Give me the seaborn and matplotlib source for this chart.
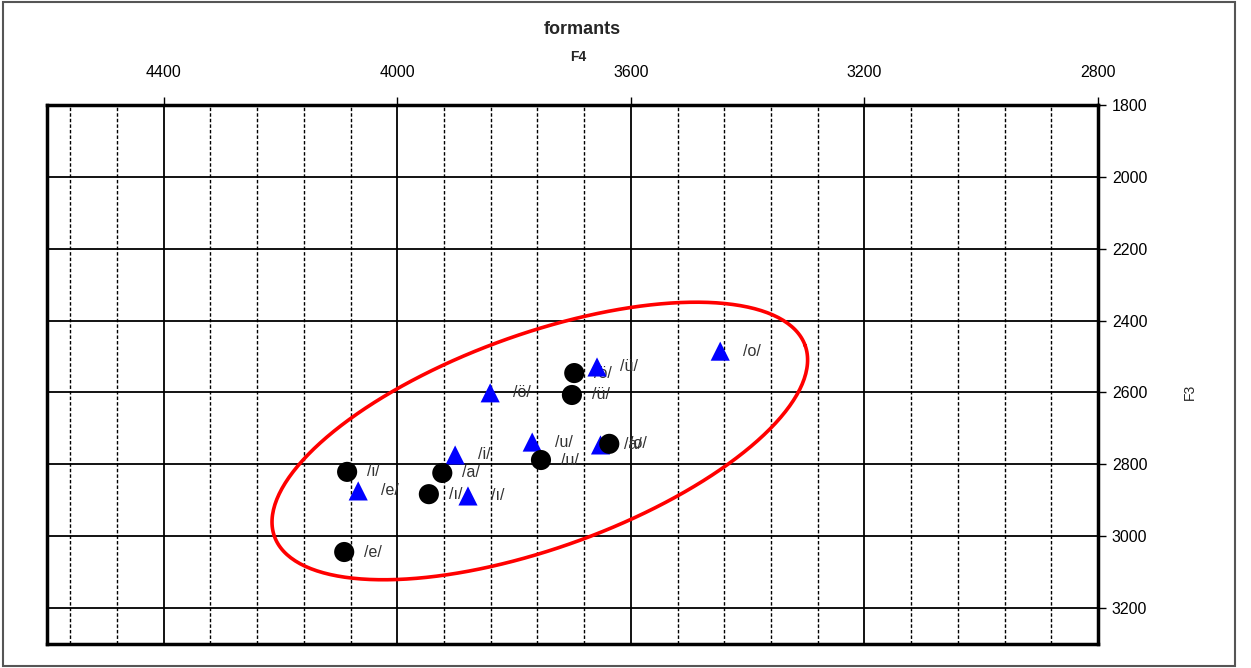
import numpy as np
import pandas as pd
import matplotlib
matplotlib.use("Agg")
import matplotlib.pyplot as plt
from matplotlib.ticker import MultipleLocator
from matplotlib.patches import Rectangle
import seaborn as sns

# --- data ---
circle_vowels = ["i", "e", "a", "ı", "u", "ö", "ü", "o"]
circle_f4 = [4086, 4091, 3923, 3946, 3754, 3697, 3701, 3637]
circle_f3 = [2821, 3044, 2824, 2883, 2788, 2546, 2607, 2743]

triangle_vowels = ["e", "i", "ı", "u", "ö", "ü", "o", "a"]
triangle_f4 = [4067, 3901, 3879, 3769, 3841, 3658, 3447, 3652]
triangle_f3 = [2874, 2774, 2888, 2738, 2601, 2529, 2485, 2746]

x_ticks = [4400, 4000, 3600, 3200, 2800]
y_ticks = [1800, 2000, 2200, 2400, 2600, 2800, 3000, 3200]

# ellipse drawn around the cloud (centre in data units, radii in pixels)
ell_center = (3756, 2735)
ell_a, ell_b, ell_angle = 282, 107, 19.8

df_c = pd.DataFrame({"F4": circle_f4, "F3": circle_f3, "vowel": circle_vowels})
df_t = pd.DataFrame({"F4": triangle_f4, "F3": triangle_f3, "vowel": triangle_vowels})

sns.set_style("white")
plt.rcParams["font.family"] = ["Liberation Sans", "DejaVu Sans"]

W, H = 1251, 668
fig = plt.figure(figsize=(W / 100, H / 100), dpi=100)
ax = fig.add_axes([47 / W, 1 - 644 / H, (1098 - 47) / W, (644 - 105) / H])

ax.set_xlim(4600, 2800)
ax.set_ylim(3300, 1800)
ax.set_xticks(x_ticks)
ax.set_yticks(y_ticks)
ax.xaxis.set_minor_locator(MultipleLocator(80))
ax.xaxis.tick_top()
ax.yaxis.tick_right()
ax.tick_params(which="major", direction="out", length=6, width=1, labelsize=11.5,
               colors="black", pad=4)
ax.tick_params(axis="x", which="major", pad=12)
ax.tick_params(which="minor", length=0)

ax.grid(which="major", axis="both", color="black", lw=1.3)
ax.grid(which="minor", axis="x", color="black", lw=1, ls=(0, (2.5, 1.5)))
ax.set_axisbelow(True)
for s in ax.spines.values():
    s.set_linewidth(2.5)
    s.set_color("black")

sns.scatterplot(data=df_t, x="F4", y="F3", marker="^", color="#0000FF", s=190,
                edgecolor="none", ax=ax, zorder=4)
sns.scatterplot(data=df_c, x="F4", y="F3", marker="o", color="black", s=210,
                edgecolor="none", ax=ax, zorder=5)
ax.set_xlabel("")
ax.set_ylabel("")

for _, r in df_c.iterrows():
    ax.annotate(f"/{r.vowel}/", (r.F4, r.F3), xytext=(20, 0), textcoords="offset pixels",
                ha="left", va="center", fontsize=11.5, color="#333333", zorder=3)
for _, r in df_t.iterrows():
    ax.annotate(f"/{r.vowel}/", (r.F4, r.F3), xytext=(23, 0), textcoords="offset pixels",
                ha="left", va="center", fontsize=11.5, color="#333333", zorder=6)

# red ellipse
cx, cy = ax.transData.transform(ell_center)
t = np.linspace(0, 2 * np.pi, 300)
th = np.deg2rad(ell_angle)
px = cx + ell_a * np.cos(t) * np.cos(th) - ell_b * np.sin(t) * np.sin(th)
py = cy + ell_a * np.cos(t) * np.sin(th) + ell_b * np.sin(t) * np.cos(th)
pts = ax.transData.inverted().transform(np.column_stack([px, py]))
ax.plot(pts[:, 0], pts[:, 1], color="#FF0000", lw=2.6, zorder=7, clip_on=False)

fig.text(582 / W, 1 - 30 / H, "formants", ha="center", va="center",
         fontsize=13, fontweight="bold")
fig.text(578 / W, 1 - 57 / H, "F4", ha="center", va="center",
         fontsize=10, fontweight="bold")
fig.text(1190 / W, 1 - 392 / H, "F3", ha="center", va="center",
         fontsize=10, rotation=90)

fig.patches.append(Rectangle((3 / W, 2 / H), (1235 - 3) / W, (666 - 2) / H,
                             transform=fig.transFigure, fill=False,
                             ec="#555555", lw=1.5))

fig.savefig("out.png", dpi=100)
